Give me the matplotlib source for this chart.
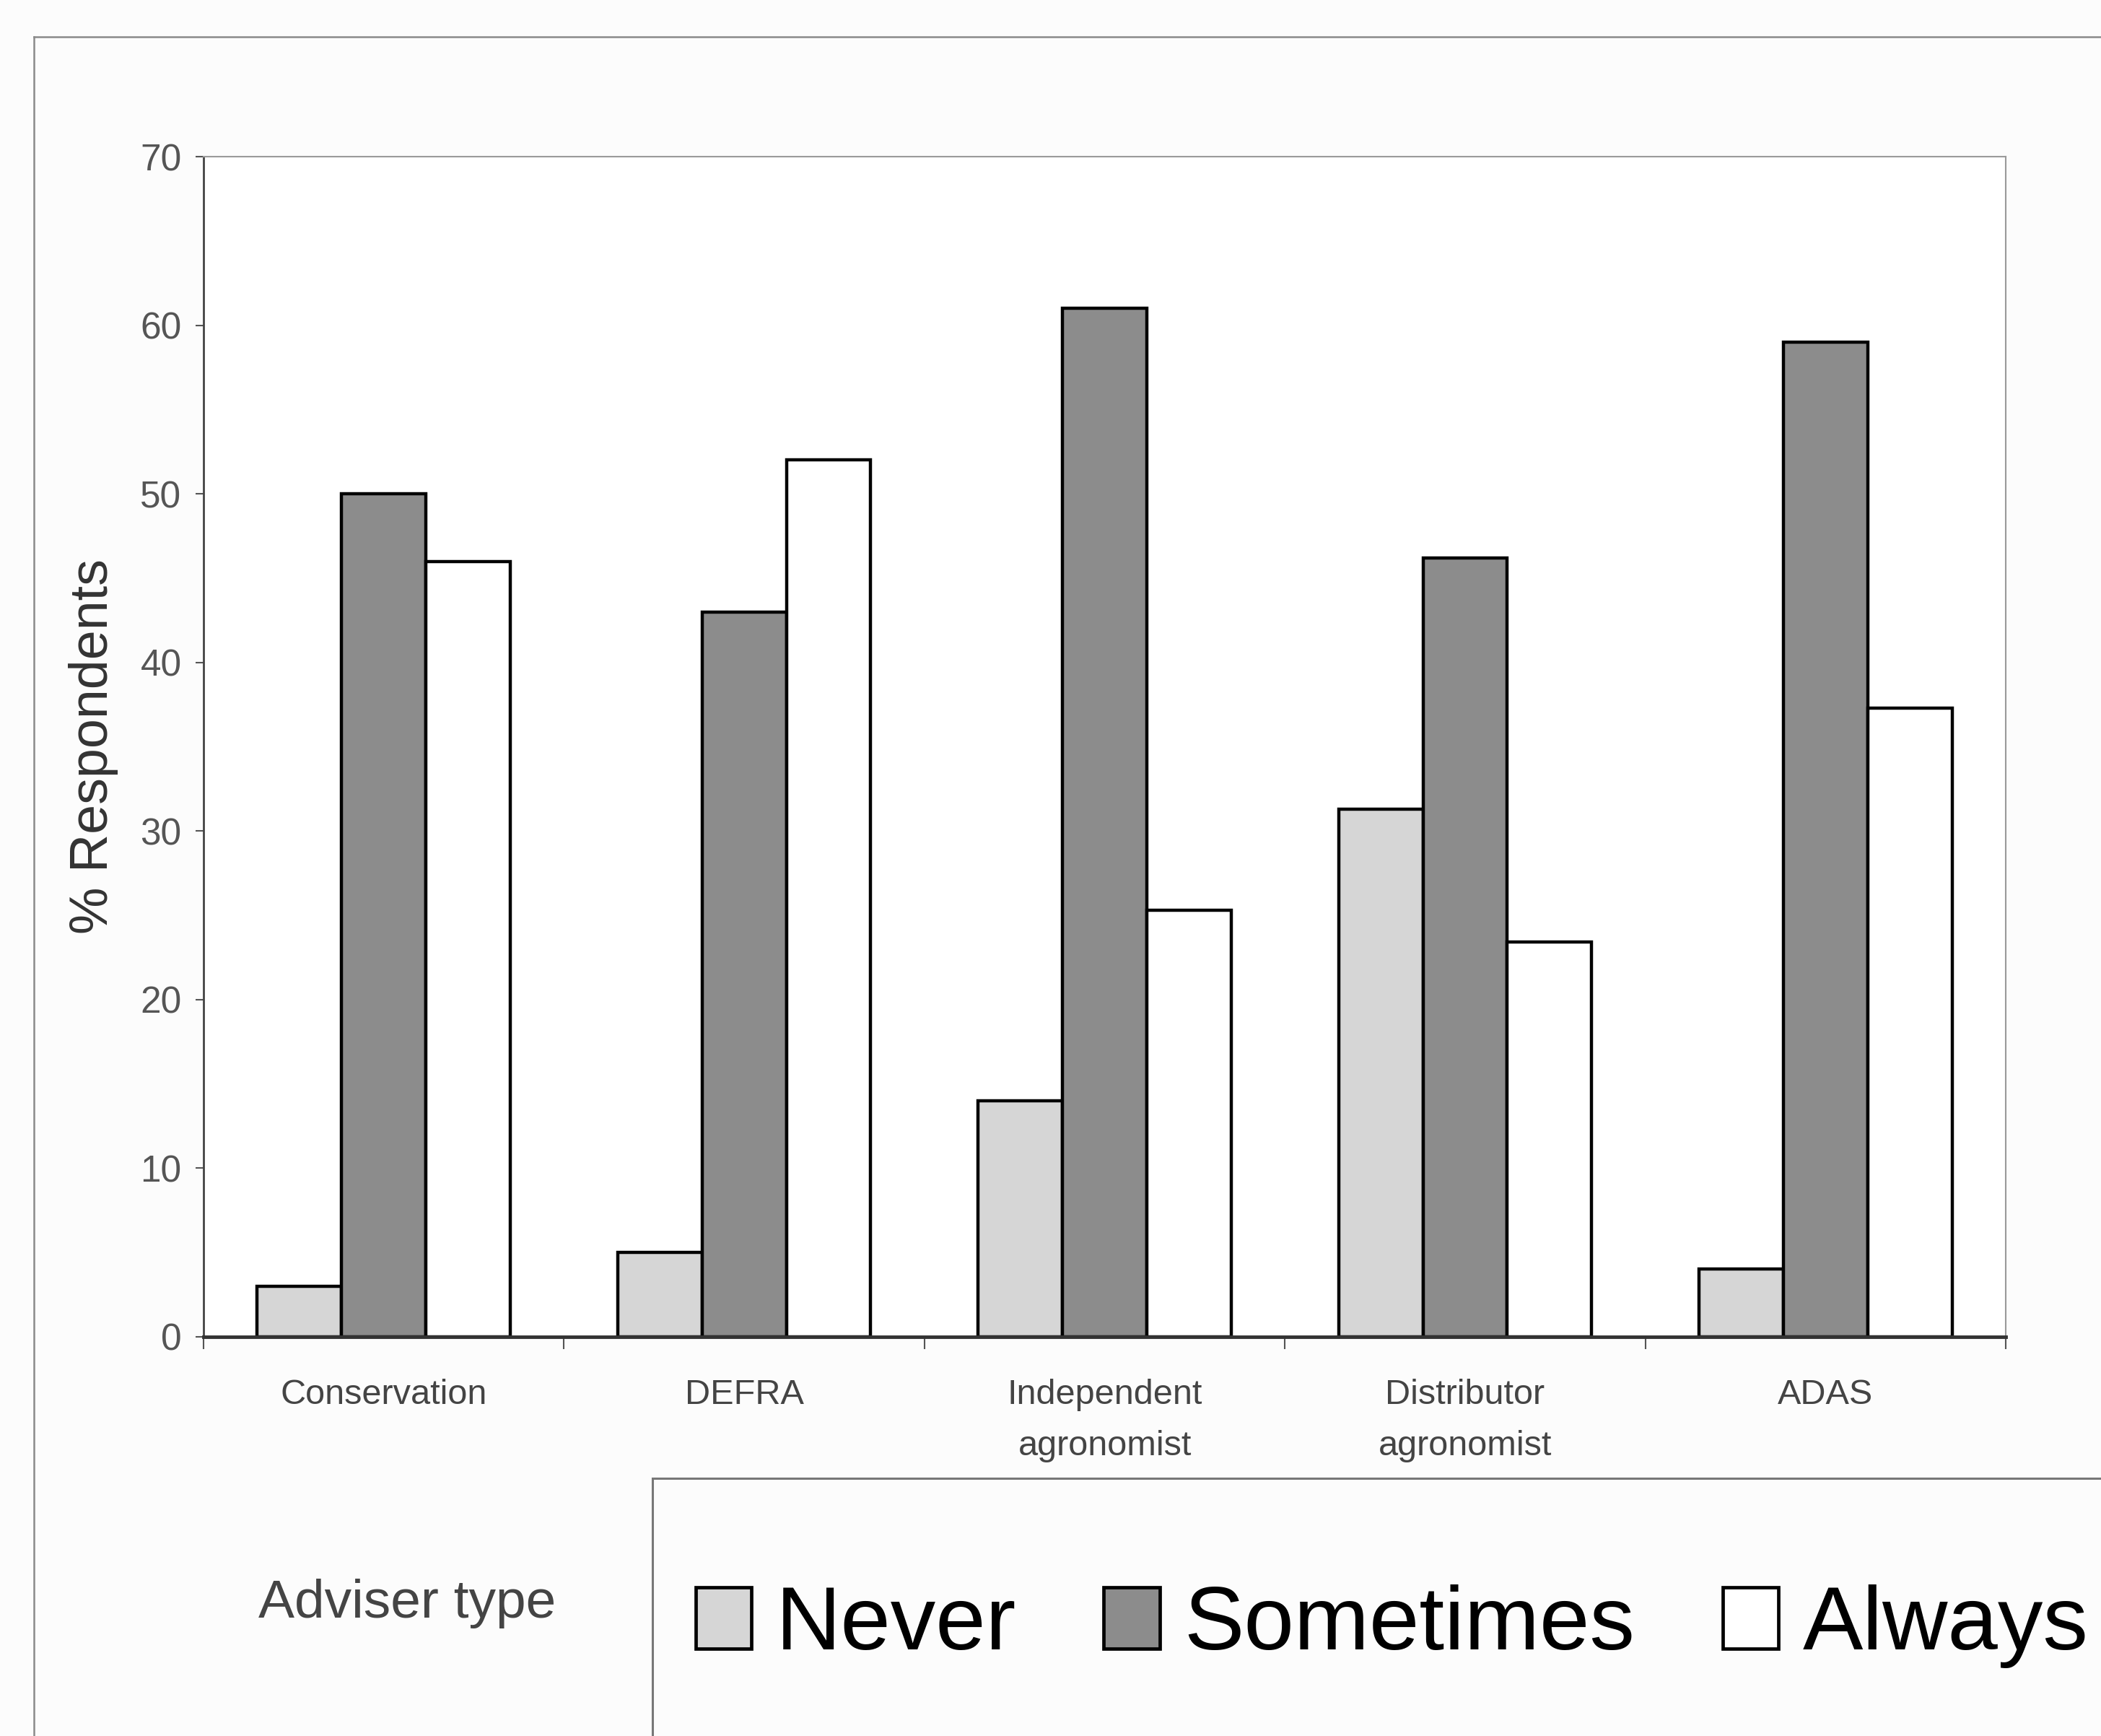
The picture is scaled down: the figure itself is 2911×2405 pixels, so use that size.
import matplotlib
matplotlib.use("Agg")
import matplotlib.pyplot as plt
from matplotlib.patches import Rectangle
from matplotlib.lines import Line2D
import numpy as np

plt.rcParams['font.family'] = ['Liberation Sans', 'DejaVu Sans']

adviser_types = ["Conservation", "DEFRA", "Independent\nagronomist",
                 "Distributor\nagronomist", "ADAS"]
never = [3, 5, 14, 31.3, 4]
sometimes = [50, 43, 61, 46.2, 59]
always = [46, 52, 25.3, 23.4, 37.3]

series_names = ["Never", "Sometimes", "Always"]
series_colors = ["#d6d6d6", "#8c8c8c", "#ffffff"]

fig = plt.figure(figsize=(29.11, 24.05), dpi=100, facecolor="#fcfcfc")
ax = fig.add_axes([0.0969, 0.2301, 0.8578, 0.6796])
ax.set_facecolor("white")

x = np.arange(len(adviser_types))
width = 0.234
for j, (vals, color) in enumerate(zip([never, sometimes, always], series_colors)):
    ax.bar(x + (j - 1) * width, vals, width=width, color=color,
           edgecolor="black", linewidth=3.2, label=series_names[j], zorder=3)

ax.set_xlim(-0.5, 4.5)
ax.set_ylim(0, 70)
ax.set_yticks(range(0, 71, 10))
ax.tick_params(axis="y", labelsize=37, labelcolor="#555555", length=8,
               width=1.5, color="#555555", pad=14)

# category names sit under the group centres, tick marks on the boundaries
ax.set_xticks(x)
ax.set_xticklabels(adviser_types, fontsize=35, color="#444444", linespacing=1.75,
                   va="top")
ax.tick_params(axis="x", which="major", length=0, pad=42)
ax.set_xticks(np.arange(-0.5, 5, 1), minor=True)
ax.tick_params(axis="x", which="minor", length=12, width=1.5, color="#555555")

for side in ["top", "right"]:
    ax.spines[side].set_color("#9a9a9a")
    ax.spines[side].set_linewidth(1.5)
ax.spines["left"].set_color("#444444")
ax.spines["left"].set_linewidth(2)
ax.spines["bottom"].set_color("#333333")
ax.spines["bottom"].set_linewidth(3.5)
ax.spines["bottom"].set_zorder(4)

ax.set_ylabel("% Respondents", fontsize=53, color="#333333", labelpad=22)
ax.set_xlabel("Adviser type", fontsize=54, color="#444444")
ax.xaxis.set_label_coords(0.113, -0.205)

# outer frame, running off the right and bottom edges
fig.add_artist(Line2D([0.016, 1.0], [0.979, 0.979], color="#8a8a8a", lw=1.8))
fig.add_artist(Line2D([0.016, 0.016], [0.0, 0.979], color="#8a8a8a", lw=1.8))

# legend box, also cut off by the figure edge
fig.add_artist(Rectangle((0.3106, -0.05), 0.75, 0.1983, transform=fig.transFigure,
                         facecolor="none", edgecolor="#777777", lw=2.2))
leg = fig.legend(loc="center left", bbox_to_anchor=(0.331, 0.063), ncol=3,
                 frameon=False, fontsize=90, handlelength=0.62,
                 handleheight=0.66, handletextpad=0.27, columnspacing=0.97,
                 borderpad=0, borderaxespad=0)
for h in leg.legend_handles:
    h.set_linewidth(3.4)

fig.savefig("out.png", dpi=100, facecolor=fig.get_facecolor())
